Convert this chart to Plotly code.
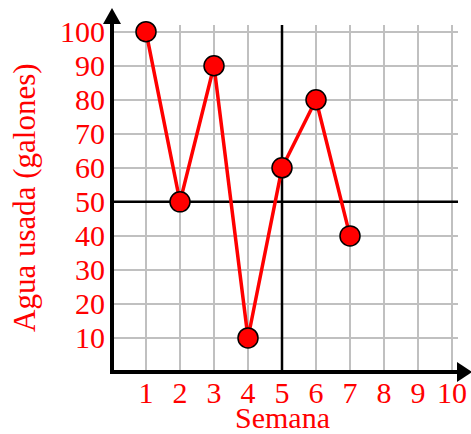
import plotly.graph_objects as go

# Data
semanas = [1, 2, 3, 4, 5, 6, 7]
agua_galones = [100, 50, 90, 10, 60, 80, 40]
x_ticks = [1, 2, 3, 4, 5, 6, 7, 8, 9, 10]
y_ticks = [10, 20, 30, 40, 50, 60, 70, 80, 90, 100]
x_label = "Semana"
y_label = "Agua usada (galones)"
ref_x = 5
ref_y = 50

W, H = 471, 434
L, R, T, B = 112, 13, 25, 62
PW = W - L - R
PH = H - T - B
X_MAX = PW / 34.0
Y_MAX = PH / 3.403

RED = "#ff0000"
FONT = "Liberation Serif"


def px_x(p):
    return (p - L) / PW


def px_y(p):
    return (H - B - p) / PH


fig = go.Figure()
# reference lines (drawn as traces so they sit above grid, below data)
fig.add_trace(go.Scatter(x=[ref_x, ref_x], y=[0, Y_MAX], mode="lines",
                         line=dict(color="black", width=2.5), hoverinfo="skip",
                         showlegend=False))
fig.add_trace(go.Scatter(x=[0, X_MAX], y=[ref_y, ref_y], mode="lines",
                         line=dict(color="black", width=2.5), hoverinfo="skip",
                         showlegend=False))
fig.add_trace(go.Scatter(
    x=semanas, y=agua_galones, mode="lines+markers",
    line=dict(color=RED, width=3.5),
    marker=dict(size=20, color=RED, line=dict(color="black", width=1.5)),
    cliponaxis=False, showlegend=False,
))

shapes = []
# axes
shapes.append(dict(type="line", xref="paper", yref="paper", x0=px_x(110), x1=px_x(460),
                   y0=0, y1=0, line=dict(color="black", width=4), layer="above"))
shapes.append(dict(type="line", xref="paper", yref="paper", x0=0, x1=0,
                   y0=px_y(374), y1=px_y(22), line=dict(color="black", width=4), layer="above"))
# arrowheads
xa = f"M {px_x(457)} {px_y(362)} L {px_x(472)} {px_y(372)} L {px_x(457)} {px_y(382)} Z"
ya = f"M {px_x(103)} {px_y(24)} L {px_x(112)} {px_y(8)} L {px_x(121)} {px_y(24)} Z"
for p in (xa, ya):
    shapes.append(dict(type="path", xref="paper", yref="paper", path=p,
                       fillcolor="black", line=dict(color="black", width=0), layer="above"))

annotations = [
    dict(text=x_label, xref="paper", yref="paper", x=px_x(282), y=px_y(417.5),
         xanchor="center", yanchor="middle", showarrow=False,
         font=dict(family=FONT, size=30, color=RED)),
    dict(text=y_label, xref="paper", yref="paper", x=px_x(24), y=px_y(198),
         xanchor="center", yanchor="middle", showarrow=False, textangle=-90,
         font=dict(family=FONT, size=31, color=RED)),
]

fig.update_layout(
    width=W, height=H,
    margin=dict(l=L, r=R, t=T, b=B),
    paper_bgcolor="white", plot_bgcolor="white",
    shapes=shapes, annotations=annotations,
    font=dict(family=FONT, color=RED),
)
fig.update_xaxes(
    range=[0, X_MAX], tickvals=x_ticks, showgrid=True, gridcolor="#c0c0c0", gridwidth=2,
    zeroline=False, showline=False, ticks="", ticklabelstandoff=0, automargin=False,
    tickfont=dict(family=FONT, size=30, color=RED),
)
fig.update_yaxes(
    range=[0, Y_MAX], tickvals=y_ticks, showgrid=True, gridcolor="#c0c0c0", gridwidth=2,
    zeroline=False, showline=False, ticks="", ticklabelstandoff=6, automargin=False,
    tickfont=dict(family=FONT, size=30, color=RED),
)

fig.write_html("out.html", config={"displayModeBar": False},
               post_script="document.body.style.margin='0px';")
